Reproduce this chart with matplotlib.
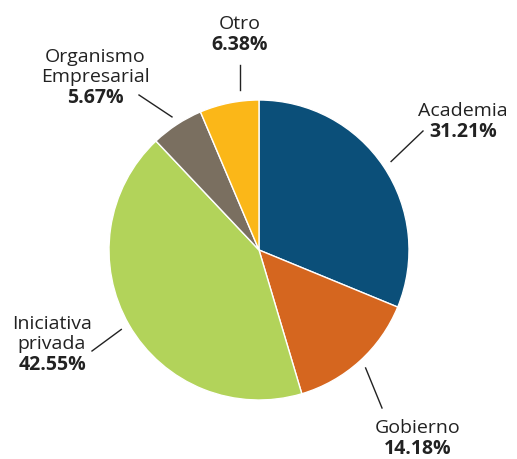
import numpy as np
import matplotlib.pyplot as plt

labels = ['Academia', 'Gobierno', 'Iniciativa\nprivada', 'Organismo\nEmpresarial', 'Otro']
values = [31.21, 14.18, 42.55, 5.67, 6.38]
colors = ['#0B4F79', '#D5661F', '#B2D35A', '#7A6F60', '#FBB718']

# label placement in pixel coords (x, y from top)
label_pos = [(463, 121), (418, 438), (52, 354), (95, 87), (240, 34)]
line_end = [(423, 132), (382, 409), (92, 352), (139, 96), (240, 66)]

W, H = 517, 460
fig = plt.figure(figsize=(W / 100, H / 100), dpi=100)
ax = fig.add_axes([0, 0, 1, 1])
ax.axis('off')

cx, cy, r = 259, H - 251, 150
wedges, _ = ax.pie(values, colors=colors, startangle=90, counterclock=False,
                   center=(cx, cy), radius=r,
                   wedgeprops=dict(edgecolor='white', linewidth=1))
ax.set_aspect('equal')
ax.set_xlim(0, W)
ax.set_ylim(0, H)

font = 'Open Sans'
for w, lab, val, (tx, ty), (ex, ey) in zip(wedges, labels, values, label_pos, line_end):
    ang = np.deg2rad((w.theta1 + w.theta2) / 2)
    if lab == 'Otro':
        sx, sy = ex, cy + r * 1.07
    else:
        sx, sy = cx + r * 1.06 * np.cos(ang), cy + r * 1.06 * np.sin(ang)
    ax.plot([sx, ex], [sy, H - ey], color='#222222', lw=1)
    ax.text(tx, H - ty + 1, lab, ha='center', va='bottom', fontsize=14,
            family=font, color='#222222', linespacing=1.15)
    ax.text(tx, H - ty - 1, f'{val:.2f}%', ha='center', va='top', fontsize=14,
            family=font, fontweight='bold', color='#222222')

fig.savefig('out.png', dpi=100)
